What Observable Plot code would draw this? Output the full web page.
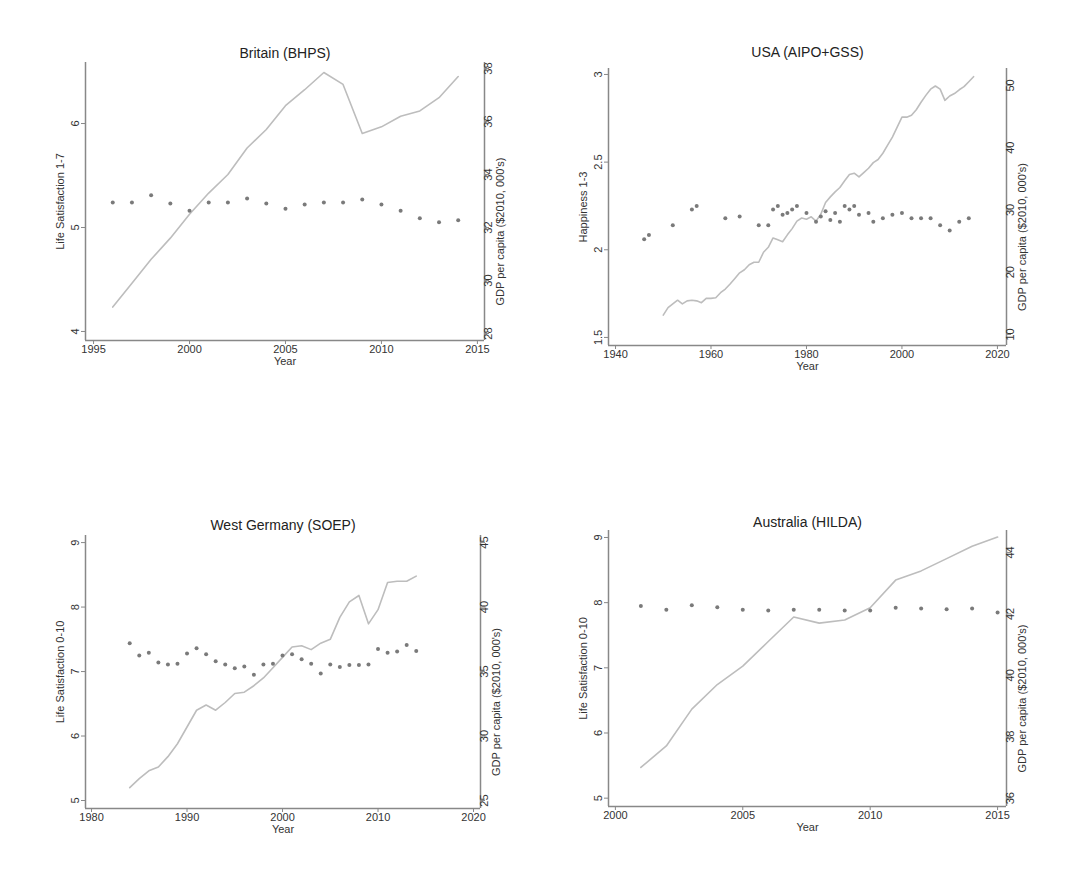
<!DOCTYPE html>
<html><head><meta charset="utf-8">
<script src="https://cdn.jsdelivr.net/npm/d3@7"></script>
<script src="https://cdn.jsdelivr.net/npm/@observablehq/plot@0.6"></script>
<style>body{margin:0;background:#fff;font-family:Arial,"Liberation Sans",sans-serif}#c{position:relative;width:1083px;height:886px}#c>div{position:absolute}</style>
</head><body><div id="c"></div>
<script>
// ---- Data ----
const ukYears = d3.range(1996, 2015);
const ukGDP = [29.0,29.9,30.8,31.6,32.5,33.3,34.0,35.0,35.7,36.6,37.2,37.85,37.4,35.55,35.8,36.2,36.4,36.9,37.7];
const ukLS = [5.24,5.24,5.31,5.23,5.16,5.24,5.24,5.28,5.23,5.18,5.22,5.24,5.24,5.27,5.22,5.16,5.09,5.05,5.07];

const usGDPYears = d3.range(1950, 2016);
const usGDP = [13.1,14.3,14.9,15.5,14.9,15.4,15.5,15.4,15.1,15.8,15.8,15.9,16.7,17.3,18.1,19.0,19.9,20.4,21.2,21.6,21.6,23.2,24.0,25.5,25.2,24.9,26.0,27.0,28.2,28.7,28.5,28.9,28.2,29.3,31.2,32.1,32.9,33.6,34.7,35.7,35.9,35.3,36.0,36.7,37.6,38.1,39.1,40.4,41.7,43.3,44.9,44.9,45.2,46.1,47.3,48.4,49.4,49.9,49.4,47.6,48.3,48.7,49.3,49.8,50.6,51.4];
const usHapYears = [1946,1947,1952,1956,1957,1963,1966,1970,1972,1973,1974,1975,1976,1977,1978,1980,1982,1983,1984,1985,1986,1987,1988,1989,1990,1991,1993,1994,1996,1998,2000,2002,2004,2006,2008,2010,2012,2014];
const usHap = [2.06,2.085,2.14,2.23,2.25,2.18,2.19,2.14,2.14,2.23,2.25,2.20,2.21,2.23,2.25,2.21,2.16,2.19,2.22,2.17,2.21,2.16,2.25,2.23,2.25,2.20,2.21,2.16,2.18,2.20,2.21,2.18,2.18,2.18,2.14,2.11,2.16,2.18];

const deYears = d3.range(1984, 2015);
const deGDP = [26.0,26.7,27.3,27.6,28.4,29.4,30.7,32.0,32.4,32.0,32.6,33.3,33.4,33.9,34.5,35.3,36.1,36.9,37.0,36.7,37.2,37.5,39.2,40.4,40.9,38.7,39.8,41.9,42.0,42.0,42.4];
const deLS = [7.44,7.25,7.29,7.14,7.11,7.12,7.28,7.36,7.27,7.16,7.11,7.05,7.08,6.95,7.11,7.12,7.25,7.27,7.19,7.12,6.97,7.11,7.07,7.10,7.10,7.11,7.35,7.29,7.31,7.41,7.32];

const auYears = d3.range(2001, 2016);
const auGDP = [37.0,37.7,38.9,39.7,40.3,41.1,41.9,41.7,41.8,42.2,43.1,43.4,43.8,44.2,44.5];
const auLS = [7.95,7.89,7.96,7.93,7.89,7.88,7.89,7.89,7.88,7.88,7.92,7.91,7.90,7.91,7.85];

const panels = [
 {title:"Britain (BHPS)", ylabel:"Life Satisfaction 1-7", pos:[0,0,541,400], m:[62,57,60,85],
  xd:[1994.58,2015.37], xt:[1995,2000,2005,2010,2015], yd:[3.913,6.587], yt:[4,5,6],
  r:[[28,3.98],[38,6.529]], rt:[28,30,32,34,36,38], ly:ukYears, lv:ukGDP, py:ukYears, pv:ukLS, tdy:-14},
 {title:"USA (AIPO+GSS)", ylabel:"Happiness 1-3", pos:[541,0,542,400], m:[68,77,55,67],
  xd:[1938.53,2021.9], xt:[1940,1960,1980,2000,2020], yd:[1.454,3.034], yt:[1.5,2,2.5,3],
  r:[[10,1.517],[50,2.9375]], rt:[10,20,30,40,50], ly:usGDPYears, lv:usGDP, py:usHapYears, pv:usHap, tdy:-21},
 {title:"West Germany (SOEP)", ylabel:"Life Satisfaction 0-10", pos:[0,443,541,443], m:[92,61,78,85],
  xd:[1979.37,2020.73], xt:[1980,1990,2000,2010,2020], yd:[4.876,9.11], yt:[5,6,7,8,9],
  r:[[25,5],[45,9]], rt:[25,30,35,40,45], ly:deYears, lv:deGDP, py:deYears, pv:deLS, tdy:-15},
 {title:"Australia (HILDA)", ylabel:"Life Satisfaction 0-10", pos:[541,443,542,443], m:[87,77,80,67],
  xd:[1999.73,2015.35], xt:[2000,2005,2010,2015], yd:[4.872,9.107], yt:[5,6,7,8,9],
  r:[[36,5.0],[44,8.77]], rt:[36,38,40,42,44], ly:auYears, lv:auGDP, py:auYears, pv:auLS, tdy:-13}
];

const axc = "#888", txt = "#333";
const root = document.getElementById("c");
for (const p of panels) {
  const [[g0,l0],[g1,l1]] = p.r;
  const toL = g => l0 + (g - g0) * (l1 - l0) / (g1 - g0);
  const toG = l => g0 + (l - l0) * (g1 - g0) / (l1 - l0);
  const line = p.ly.map((y,i)=>({x:y, v:toL(p.lv[i])}));
  const pts = p.py.map((y,i)=>({x:y, v:p.pv[i]}));
  const [W,H] = [p.pos[2], p.pos[3]];
  const chart = Plot.plot({
    width:W, height:H, marginTop:p.m[0], marginRight:p.m[1], marginBottom:p.m[2], marginLeft:p.m[3],
    style:{fontFamily:"Arial, 'Liberation Sans', sans-serif", fontSize:"11px", color:txt, background:"transparent"},
    x:{domain:p.xd, label:null}, y:{domain:p.yd, label:null},
    marks:[
      Plot.ruleX([p.xd[0], p.xd[1]], {stroke:axc, strokeWidth:1.5}),
      Plot.ruleY([p.yd[0]], {stroke:axc, strokeWidth:1.5}),
      Plot.axisX({ticks:p.xt, tickFormat:d=>String(d), tickSize:4, stroke:axc, fill:txt, label:null, tickPadding:1}),
      Plot.axisY({ticks:p.yt, tickFormat:d=>String(d), tickSize:4, stroke:axc, fill:txt, tickRotate:-90, label:null, tickPadding:3}),
      Plot.axisY({anchor:"right", ticks:p.rt.map(toL), tickFormat:v=>String(Math.round(toG(v))), tickSize:4, stroke:axc, fill:txt, tickRotate:-90, label:null, tickPadding:3}),
      Plot.line(line, {x:"x", y:"v", stroke:"#bdbdbd", strokeWidth:1.6}),
      Plot.dot(pts, {x:"x", y:"v", r:2, fill:"#7a7a7a", stroke:null}),
      Plot.text([p.title], {frameAnchor:"top", dy:p.tdy, fontSize:14, fill:"#222"}),
      Plot.text(["Year"], {frameAnchor:"bottom", dy:24, fontSize:11, fill:txt}),
      Plot.text([p.ylabel], {frameAnchor:"left", dx:-25, rotate:-90, textAnchor:"middle", fontSize:11, fill:txt}),
      Plot.text(["GDP per capita ($2010, 000's)"], {frameAnchor:"right", dx:16, dy:30, rotate:-90, textAnchor:"middle", fontSize:11, fill:txt})
    ]
  });
  const d = document.createElement("div");
  d.style.left = p.pos[0]+"px"; d.style.top = p.pos[1]+"px";
  d.appendChild(chart); root.appendChild(d);
}
</script></body></html>
